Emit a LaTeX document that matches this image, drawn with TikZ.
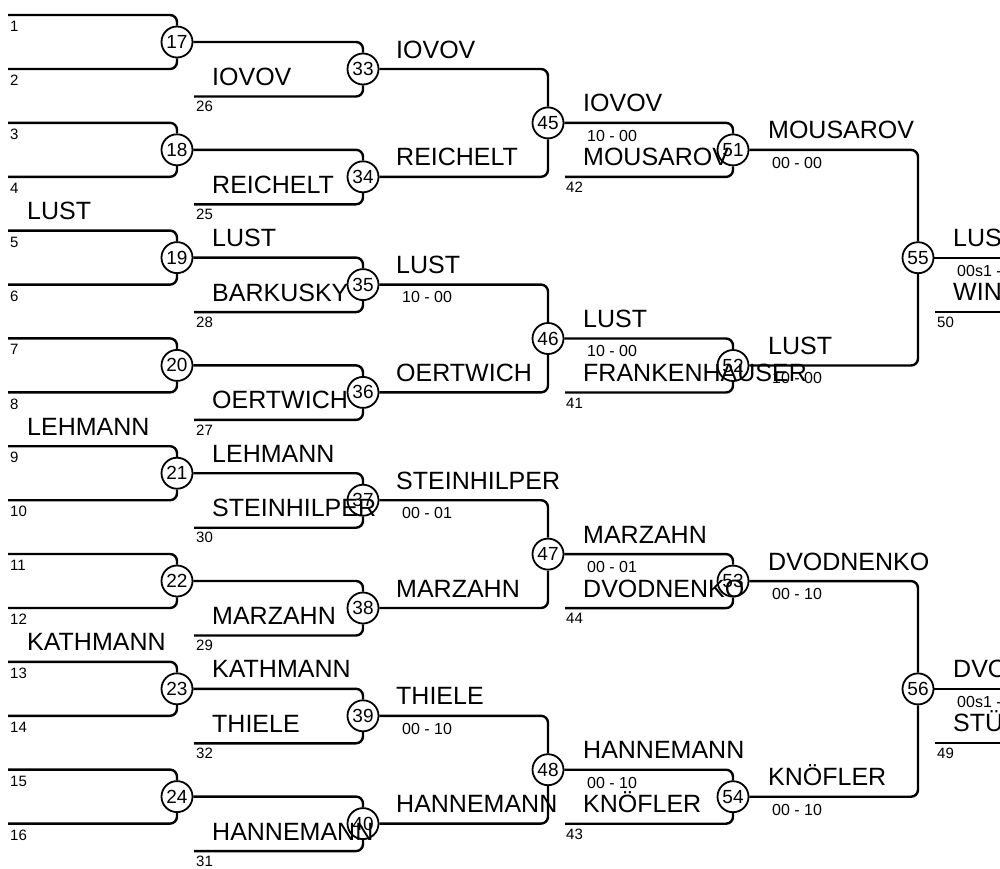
\documentclass[tikz,border=0pt]{standalone}
\usepackage{fontspec}
\setmainfont{Liberation Sans}
\usetikzlibrary{positioning, calc}

\tikzset{
  match/.style={circle, draw, line width=1.8pt, minimum size=31pt, inner sep=0pt, font=\fontsize{19}{19}\selectfont},
  tie/.style={line width=2.4pt, rounded corners=7pt},
  nom/.style={anchor=base west, inner sep=0pt, font=\fontsize{25}{25}\selectfont},
  score/.style={anchor=north west, inner sep=0pt, font=\fontsize{16}{16}\selectfont},
  numero/.style={anchor=north west, inner sep=0pt, font=\fontsize{15}{15}\selectfont},
}

\begin{document}
\begin{tikzpicture}[x=1pt, y=-1pt]
  \useasboundingbox (0,0) rectangle (1000,868);
  \clip (0,0) rectangle (1000,868);

  % Tour 1
  \foreach \k in {0,...,7}{
    \pgfmathsetmacro{\yc}{42+107.8*\k}
    \pgfmathtruncatemacro{\m}{17+\k}
    \pgfmathtruncatemacro{\pa}{2*\k+1}
    \pgfmathtruncatemacro{\pb}{2*\k+2}
    \node[match] (m\m) at (177,\yc) {\m};
    \coordinate (p\pa) at (8,\yc-27);
    \coordinate (p\pb) at (8,\yc+27);
    \draw[tie] (p\pa) -| (m\m.north);
    \draw[tie] (p\pb) -| (m\m.south);
    \node[numero] (n\pa) at (10,\yc-21) {\pa};
    \node[numero] (n\pb) at (10,\yc+33) {\pb};
  }

  % Tour 2
  \foreach \k/\e in {0/26,1/25,2/28,3/27,4/30,5/29,6/32,7/31}{
    \pgfmathsetmacro{\yc}{69+107.8*\k}
    \pgfmathtruncatemacro{\m}{33+\k}
    \pgfmathtruncatemacro{\w}{17+\k}
    \node[match] (m\m) at (363,\yc) {\m};
    \coordinate (p\e) at (194,\yc+27.5);
    \draw[tie] (m\w.east) -| (m\m.north);
    \draw[tie] (p\e) -| (m\m.south);
    \node[numero] (n\e) at (196,\yc+32) {\e};
  }

  % Tour 3
  \foreach \k in {0,...,3}{
    \pgfmathsetmacro{\yc}{122.9+215.6*\k}
    \pgfmathtruncatemacro{\m}{45+\k}
    \pgfmathtruncatemacro{\wa}{33+2*\k}
    \pgfmathtruncatemacro{\wb}{34+2*\k}
    \node[match] (m\m) at (548,\yc) {\m};
    \draw[tie] (m\wa.east) -| (m\m.north);
    \draw[tie] (m\wb.east) -| (m\m.south);
  }

  % Tour 4
  \foreach \k/\e in {0/42,1/41,2/44,3/43}{
    \pgfmathsetmacro{\yc}{149.9+215.6*\k}
    \pgfmathtruncatemacro{\m}{51+\k}
    \pgfmathtruncatemacro{\w}{45+\k}
    \node[match] (m\m) at (733,\yc) {\m};
    \coordinate (p\e) at (565,\yc+27);
    \draw[tie] (m\w.east) -| (m\m.north);
    \draw[tie] (p\e) -| (m\m.south);
    \node[numero] (n\e) at (566,\yc+32) {\e};
  }

  % Tour 5
  \foreach \k/\e in {0/50,1/49}{
    \pgfmathsetmacro{\yc}{257.7+431.2*\k}
    \pgfmathtruncatemacro{\m}{55+\k}
    \pgfmathtruncatemacro{\wa}{51+2*\k}
    \pgfmathtruncatemacro{\wb}{52+2*\k}
    \node[match] (m\m) at (918,\yc) {\m};
    \draw[tie] (m\wa.east) -| (m\m.north);
    \draw[tie] (m\wb.east) -| (m\m.south);
    \coordinate (s\m) at (1000,\yc);
    \coordinate (p\e) at (935,\yc+54);
    \coordinate (q\e) at (1000,\yc+54);
    \draw[tie] (m\m.east) -- (s\m);
    \draw[tie] (p\e) -- (q\e);
    \node[numero] (n\e) at (937,\yc+59) {\e};
  }

  % Noms
  \foreach \id/\x/\y/\txt in {
    a5/27/230.6/LUST, a9/27/446.2/LEHMANN, a13/27/661.8/KATHMANN,
    b26/212/96.5/IOVOV, b25/212/204.3/REICHELT, b19/212/257.6/LUST, b28/212/312.1/BARKUSKY,
    b27/212/419.9/OERTWICH, b21/212/473.2/LEHMANN, b30/212/527.7/STEINHILPER, b29/212/635.5/MARZAHN,
    b23/212/688.8/KATHMANN, b32/212/743.3/THIELE, b31/212/851.1/HANNEMANN,
    c33/396/69/IOVOV, c34/396/176.8/REICHELT, c35/396/284.6/LUST, c36/396/392.4/OERTWICH,
    c37/396/500.2/STEINHILPER, c38/396/608/MARZAHN, c39/396/715.8/THIELE, c40/396/823.6/HANNEMANN,
    d45/583/122.9/IOVOV, d42/583/176.9/MOUSAROV, d46/583/338.5/LUST, d41/583/392.5/FRANKENHAUSER,
    d47/583/554.1/MARZAHN, d44/583/608.1/DVODNENKO, d48/583/769.7/HANNEMANN, d43/583/823.7/KNÖFLER,
    e51/768/149.9/MOUSAROV, e52/768/365.5/LUST, e53/768/581.1/DVODNENKO, e54/768/796.7/KNÖFLER,
    f55/953/257.7/LUST, f50/953/311.7/WIN, f56/953/688.9/DVODNENKO, f49/953/742.9/STÜ}
    \node[nom] (\id) at (\x,\y-11) {\txt};

  % Scores
  \foreach \id/\x/\y/\txt in {
    r35/402/284.6/10 - 00, r37/402/500.2/00 - 01, r39/402/715.8/00 - 10,
    r45/587/122.9/10 - 00, r46/587/338.5/10 - 00, r47/587/554.1/00 - 01, r48/587/769.7/00 - 10,
    r51/772/149.9/00 - 00, r52/772/365.5/10 - 00, r53/772/581.1/00 - 10, r54/772/796.7/00 - 10,
    r55/957/257.7/00s1 - 00, r56/957/688.9/00s1 - 00}
    \node[score] (\id) at (\x,\y+7) {\txt};
\end{tikzpicture}
\end{document}
